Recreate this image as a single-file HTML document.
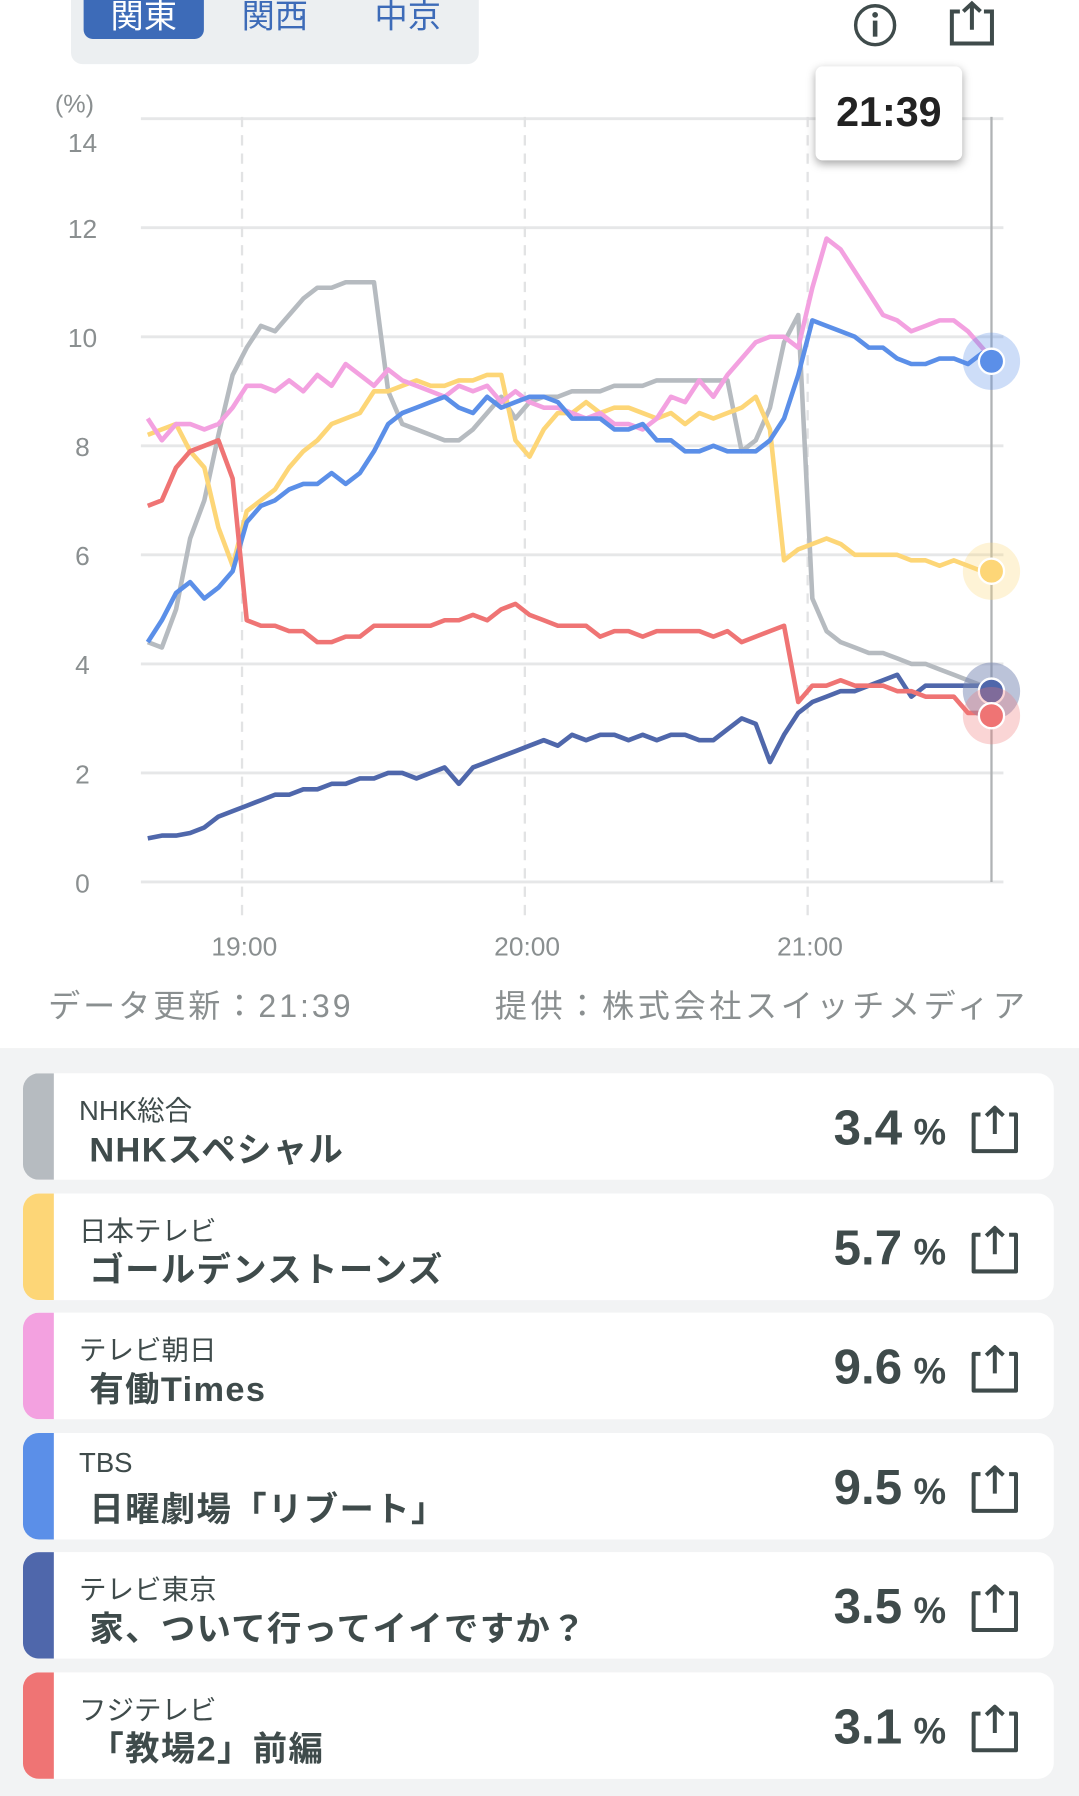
<!DOCTYPE html>
<html><head><meta charset="utf-8">
<style>
html,body{margin:0;padding:0;width:1079px;height:1796px;overflow:hidden;background:#fff;}
#wrap{position:absolute;left:0;top:0;width:942px;height:1568px;transform:scale(1.14544);transform-origin:0 0;font-family:"Liberation Sans","Noto Sans CJK JP",sans-serif;}
.tabs{position:absolute;left:62px;top:-12px;width:356px;height:68px;background:#eceff1;border-radius:10px;}
.tab{position:absolute;top:-4px;height:50px;line-height:62px;font-size:29px;color:#3d6bb8;text-align:center;width:100px;}
.tab.active{background:#3d6bb8;color:#fff;border-radius:8px;}
.lower{position:absolute;left:0;top:915px;width:942px;height:653px;background:#f2f3f4;}
.card{position:absolute;left:20px;width:900px;height:93px;background:#fff;border-radius:14px;overflow:hidden;}
.card .bar{position:absolute;left:0;top:0;width:27px;height:93px;}
.card .ch{position:absolute;left:49px;top:13px;font-size:24px;color:#3f4b4b;}
.card .title{position:absolute;left:58px;top:42px;font-size:30px;font-weight:bold;color:#3f4b4b;letter-spacing:1.2px;}
.card .val{position:absolute;right:94px;top:24px;font-size:43px;font-weight:bold;color:#3f4b4b;}
.card .val span{font-size:32px;margin-left:10px;}
.card svg{position:absolute;left:827px;top:27px;}
</style></head><body>
<div id="wrap">
<div class="tabs">
  <div class="tab active" style="left:11px;width:105px">関東</div>
  <div class="tab" style="left:128px">関西</div>
  <div class="tab" style="left:244px">中京</div>
</div>
<svg style="position:absolute;left:744px;top:2px" width="40" height="40"><circle cx="20" cy="20" r="17" fill="none" stroke="#3f4b4b" stroke-width="3"/><circle cx="20" cy="11" r="2.5" fill="#3f4b4b"/><rect x="18" y="16" width="4" height="14" fill="#3f4b4b"/></svg>
<svg style="position:absolute;left:828px;top:0px" width="42" height="42"><path d="M10 10 H3 V38 H38 V10 H31 M20.5 26 V3 M13 10 L20.5 3 L28 10" fill="none" stroke="#3f4b4b" stroke-width="3.5"/></svg>

<svg id="chart" style="position:absolute;left:0;top:0" width="942" height="910"></svg>

<div style="position:absolute;left:712px;top:58px;width:128px;height:82px;background:#fff;border-radius:6px;box-shadow:0 3px 8px rgba(0,0,0,0.35);text-align:center;line-height:80px;font-size:36px;font-weight:bold;color:#222">21:39</div>

<div style="position:absolute;left:42px;top:857px;font-size:28px;color:#8a8f90;letter-spacing:2.6px">データ更新：21:39</div>
<div style="position:absolute;left:432px;top:857px;font-size:28px;color:#8a8f90;letter-spacing:3.2px">提供：株式会社スイッチメディア</div>

<div class="lower"></div>
<div id="cards"></div>
</div>
<script>
const times=[0,3,6,9,12,15,18,21,24,27,30,33,36,39,42,45,48,51,54,57,60,63,66,69,72,75,78,81,84,87,90,93,96,99,102,105,108,111,114,117,120,123,126,129,132,135,138,141,144,147,150,153,156,159,162,165,168,171,174,177,179];
const nhk=[4.4,4.3,5.0,6.3,7.0,8.2,9.3,9.8,10.2,10.1,10.4,10.7,10.9,10.9,11.0,11.0,11.0,9.0,8.4,8.3,8.2,8.1,8.1,8.3,8.6,8.9,8.5,8.8,8.9,8.9,9.0,9.0,9.0,9.1,9.1,9.1,9.2,9.2,9.2,9.2,9.2,9.2,7.9,8.1,8.7,9.9,10.4,5.2,4.6,4.4,4.3,4.2,4.2,4.1,4.0,4.0,3.9,3.8,3.7,3.6,3.5];
const ntv=[8.2,8.3,8.4,7.9,7.6,6.5,5.8,6.8,7.0,7.2,7.6,7.9,8.1,8.4,8.5,8.6,9.0,9.0,9.1,9.2,9.1,9.1,9.2,9.2,9.3,9.3,8.1,7.8,8.3,8.6,8.6,8.8,8.6,8.7,8.7,8.6,8.5,8.6,8.4,8.6,8.5,8.6,8.7,8.9,8.3,5.9,6.1,6.2,6.3,6.2,6.0,6.0,6.0,6.0,5.9,5.9,5.8,5.9,5.8,5.7,5.7];
const ex=[8.5,8.1,8.4,8.4,8.3,8.4,8.7,9.1,9.1,9.0,9.2,9.0,9.3,9.1,9.5,9.3,9.1,9.4,9.2,9.1,9.0,8.9,9.1,9.0,9.1,8.8,9.0,8.8,8.7,8.7,8.6,8.5,8.6,8.4,8.4,8.3,8.5,8.9,8.8,9.2,8.9,9.3,9.6,9.9,10.0,10.0,9.8,10.9,11.8,11.6,11.2,10.8,10.4,10.3,10.1,10.2,10.3,10.3,10.1,9.8,9.6];
const tbs=[4.4,4.8,5.3,5.5,5.2,5.4,5.7,6.6,6.9,7.0,7.2,7.3,7.3,7.5,7.3,7.5,7.9,8.4,8.6,8.7,8.8,8.9,8.7,8.6,8.9,8.7,8.8,8.9,8.9,8.8,8.5,8.5,8.5,8.3,8.3,8.4,8.1,8.1,7.9,7.9,8.0,7.9,7.9,7.9,8.1,8.5,9.3,10.3,10.2,10.1,10.0,9.8,9.8,9.6,9.5,9.5,9.6,9.6,9.5,9.7,9.55];
const tx=[0.8,0.85,0.85,0.9,1.0,1.2,1.3,1.4,1.5,1.6,1.6,1.7,1.7,1.8,1.8,1.9,1.9,2.0,2.0,1.9,2.0,2.1,1.8,2.1,2.2,2.3,2.4,2.5,2.6,2.5,2.7,2.6,2.7,2.7,2.6,2.7,2.6,2.7,2.7,2.6,2.6,2.8,3.0,2.9,2.2,2.7,3.1,3.3,3.4,3.5,3.5,3.6,3.7,3.8,3.4,3.6,3.6,3.6,3.6,3.6,3.5];
const cx=[6.9,7.0,7.6,7.9,8.0,8.1,7.4,4.8,4.7,4.7,4.6,4.6,4.4,4.4,4.5,4.5,4.7,4.7,4.7,4.7,4.7,4.8,4.8,4.9,4.8,5.0,5.1,4.9,4.8,4.7,4.7,4.7,4.5,4.6,4.6,4.5,4.6,4.6,4.6,4.6,4.5,4.6,4.4,4.5,4.6,4.7,3.3,3.6,3.6,3.7,3.6,3.6,3.6,3.5,3.5,3.4,3.4,3.4,3.1,3.1,3.05];
const yTicks=[0,2,4,6,8,10,12,14];
const xTickLabels=['19:00','20:00','21:00'];
const xTickMinutes=[20,80,140];
const seriesNames=['nhk','ntv','ex','tbs','tx','cx'];
const seriesColors=['#b6bbc0','#fdd677','#f3a1e0','#5b8fe8','#4f67ab','#ef7474'];
const seriesData=[nhk,ntv,ex,tbs,tx,cx];
const channels=['NHK総合','日本テレビ','テレビ朝日','TBS','テレビ東京','フジテレビ'];
const programs=['NHKスペシャル','ゴールデンストーンズ','有働Times','日曜劇場「リブート」','家、ついて行ってイイですか？','「教場2」前編'];
const shares=['3.4','5.7','9.6','9.5','3.5','3.1'];

const NS='http://www.w3.org/2000/svg';
const svg=document.getElementById('chart');
const X0=129,XS=4.115,Y0=770,YS=47.6;
function xOf(t){return X0+t*XS;}
function yOf(v){return Y0-v*YS;}
function mk(tag,attrs,parent){const e=document.createElementNS(NS,tag);for(const k in attrs)e.setAttribute(k,attrs[k]);(parent||svg).appendChild(e);return e;}

let t=mk('text',{x:65,y:98,'font-size':22,fill:'#8a8f90','text-anchor':'middle','font-family':'Liberation Sans, sans-serif'});
t.textContent='(%)';


yTicks.forEach(v=>{
  const l=mk('line',{x1:123,x2:876,y1:yOf(v),y2:yOf(v),stroke:'#e6e7e8','stroke-width':2.5});
  
  
  const ty=v===14?yOf(v)+29:yOf(v)+9;
  const tt=mk('text',{x:72,y:ty,'font-size':23,fill:'#8a8f90','text-anchor':'middle','font-family':'Liberation Sans, sans-serif'});
  tt.textContent=v;
  
  
});
xTickMinutes.forEach((m,i)=>{
  const l=mk('line',{x1:xOf(m),x2:xOf(m),y1:102,y2:800,stroke:'#e2e3e4','stroke-width':2,'stroke-dasharray':'9,7'});
  
  
  const tt=mk('text',{x:xOf(m)+2,y:834,'font-size':23,fill:'#8a8f90','text-anchor':'middle','font-family':'Liberation Sans, sans-serif'});
  tt.textContent=xTickLabels[i];
  
  
});
const lastT=times[times.length-1];
const cur=mk('line',{x1:xOf(lastT),x2:xOf(lastT),y1:102,y2:770,stroke:'#b0b3b5','stroke-width':2});


seriesData.forEach((d,i)=>{
  const pts=times.map((tm,j)=>xOf(tm).toFixed(1)+','+yOf(d[j]).toFixed(1)).join(' ');
  const p=mk('polyline',{points:pts,fill:'none',stroke:seriesColors[i],'stroke-width':4,'stroke-linejoin':'round'});
  
  
});
[0,1,3,4,5].forEach(i=>{
  const d=seriesData[i];const v=d[d.length-1];
  const h=mk('circle',{cx:xOf(lastT),cy:yOf(v),r:25,fill:seriesColors[i],'fill-opacity':0.3});
  
  
  const c=mk('circle',{cx:xOf(lastT),cy:yOf(v),r:11,fill:seriesColors[i],stroke:'#fff','stroke-width':2});
  
  
});

const cards=document.getElementById('cards');
channels.forEach((ch,i)=>{
  const c=document.createElement('div');
  c.className='card';
  c.style.top=(937+i*104.6)+'px';
  
  
  c.innerHTML='<div class="bar" style="background:'+seriesColors[i]+'"></div><div class="ch">'+ch+'</div><div class="title">'+programs[i]+'</div><div class="val">'+shares[i]+'<span>%</span></div><svg width="44" height="44"><path d="M9 9 H3 V41 H40 V9 H34 M21.5 26 V3 M14 10 L21.5 3 L29 10" fill="none" stroke="#3f4b4b" stroke-width="3.5" stroke-linejoin="round"/></svg>';
  cards.appendChild(c);
  c.querySelector('.bar');
  c.querySelector('.bar');
  c.querySelector('.ch');
  c.querySelector('.ch');
  c.querySelector('.title');
  c.querySelector('.title');
  c.querySelector('.val');
  c.querySelector('.val');
  c.querySelector('svg');
  c.querySelector('svg');
});
</script>
</body></html>
